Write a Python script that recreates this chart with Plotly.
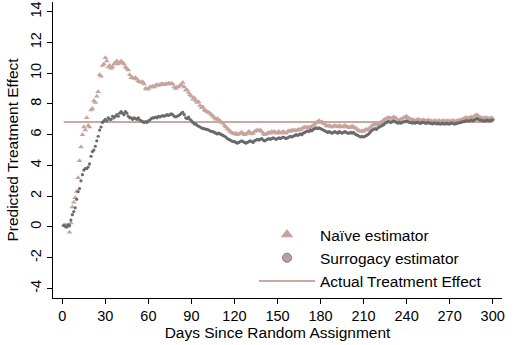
import plotly.graph_objects as go

days = list(range(1, 301))

naive = [
    0.1, 0.15, 0.0, 0.05, -0.35, 0.25, 1.3, 1.6, 1.9, 2.3,
    3.2, 4.3, 5.2, 6.0, 6.5, 6.3, 7.1, 6.6, 6.5, 7.6,
    7.7, 8.2, 8.1, 8.5, 8.8, 9.9, 9.8, 10.5, 10.6, 11.0,
    10.8, 10.4, 10.5, 10.3, 10.4, 10.6, 10.7, 10.8, 10.6, 10.7,
    10.8, 10.7, 10.6, 10.4, 10.3, 10.2, 9.9, 9.7, 9.7, 9.65,
    9.7, 9.6, 9.5, 9.45, 9.4, 9.45, 9.3, 9.0, 8.95, 9.0,
    9.1, 9.1, 9.15, 9.1, 9.2, 9.25, 9.2, 9.25, 9.3, 9.3,
    9.25, 9.3, 9.3, 9.35, 9.3, 9.35, 9.3, 9.1, 9.0, 9.1,
    9.1, 9.2, 9.25, 9.4, 9.1, 8.9, 8.9, 8.75, 8.6, 8.5,
    8.3, 8.4, 8.2, 8.1, 8.15, 7.9, 7.75, 7.8, 7.6, 7.55,
    7.5, 7.45, 7.4, 7.3, 7.2, 7.1, 7.0, 7.05, 6.95, 6.9,
    6.8, 6.75, 6.6, 6.5, 6.4, 6.3, 6.2, 6.15, 6.1, 6.05,
    6.1, 6.0, 6.05, 6.1, 6.15, 6.1, 6.0, 6.05, 6.1, 6.2,
    6.15, 6.05, 6.1, 6.2, 6.25, 6.3, 6.25, 6.3, 6.2, 6.1,
    6.0, 6.05, 6.1, 6.15, 6.1, 6.2, 6.15, 6.2, 6.1, 6.15,
    6.2, 6.1, 6.15, 6.2, 6.15, 6.1, 6.2, 6.25, 6.2, 6.3,
    6.25, 6.3, 6.25, 6.3, 6.35, 6.3, 6.4, 6.45, 6.5, 6.45,
    6.5, 6.45, 6.5, 6.55, 6.6, 6.7, 6.8, 6.85, 6.9, 6.8,
    6.85, 6.75, 6.7, 6.6, 6.55, 6.6, 6.55, 6.5, 6.55, 6.6,
    6.55, 6.5, 6.6, 6.55, 6.5, 6.55, 6.6, 6.55, 6.5, 6.45,
    6.5, 6.55, 6.5, 6.45, 6.4, 6.3, 6.25, 6.2, 6.25, 6.2,
    6.3, 6.35, 6.3, 6.4, 6.5, 6.6, 6.65, 6.7, 6.65, 6.7,
    6.75, 6.8, 6.85, 6.95, 7.0, 7.05, 7.1, 7.1, 7.05, 7.1,
    7.15, 7.1, 7.05, 6.9, 6.95, 7.0, 7.05, 7.1, 7.15, 7.2,
    7.1, 7.05, 7.0, 6.95, 6.95, 6.9, 6.95, 7.0, 6.95, 6.9,
    6.95, 6.95, 6.9, 6.9, 6.95, 6.9, 6.9, 6.85, 6.9, 6.9,
    6.85, 6.9, 6.9, 6.85, 6.9, 6.9, 6.85, 6.9, 6.9, 6.85,
    6.9, 6.9, 6.9, 6.85, 6.9, 6.9, 6.95, 6.95, 7.0, 7.05,
    7.1, 7.1, 7.05, 7.1, 7.15, 7.1, 7.2, 7.25, 7.3, 7.2,
    7.15, 7.1, 7.05, 7.1, 7.05, 7.1, 7.05, 7.05, 7.1, 7.05,
]

surrogacy = [
    0.1, 0.05, 0.0, 0.15, 0.1, 0.45, 0.8, 1.0, 1.25, 1.8,
    2.3, 2.5, 3.0, 3.4, 3.7, 3.8, 3.8, 3.9, 4.1, 4.6,
    4.9, 5.0, 5.25, 5.6, 5.9, 6.3, 6.5, 6.8, 6.9, 7.0,
    6.9, 7.1, 7.0, 7.0, 7.2, 7.1, 7.2, 7.3, 7.2, 7.4,
    7.5, 7.4, 7.3, 7.5, 7.4, 7.2, 7.1, 7.1, 7.0, 7.1,
    7.05, 7.0, 7.1, 6.95, 6.9, 6.85, 6.8, 6.85, 6.8, 6.9,
    6.95, 7.05, 7.1, 7.1, 7.15, 7.1, 7.2, 7.15, 7.2, 7.25,
    7.2, 7.25, 7.3, 7.25, 7.3, 7.35, 7.3, 7.2, 7.15, 7.2,
    7.25, 7.3, 7.4, 7.45, 7.3, 7.1, 7.05, 7.15, 7.0, 6.9,
    6.8, 6.7, 6.7, 6.6, 6.55, 6.5, 6.45, 6.4, 6.4, 6.35,
    6.35, 6.3, 6.25, 6.2, 6.2, 6.15, 6.1, 6.05, 6.1, 6.05,
    6.0, 5.95, 5.9, 5.85, 5.75, 5.7, 5.65, 5.6, 5.55, 5.55,
    5.5, 5.45, 5.5, 5.55, 5.6, 5.55, 5.5, 5.45, 5.5, 5.55,
    5.6, 5.55, 5.5, 5.6, 5.65, 5.7, 5.65, 5.7, 5.75, 5.65,
    5.6, 5.65, 5.7, 5.75, 5.7, 5.75, 5.8, 5.75, 5.7, 5.75,
    5.8, 5.75, 5.8, 5.85, 5.8, 5.75, 5.8, 5.85, 5.9, 5.85,
    5.9, 5.95, 6.0, 5.95, 6.0, 6.05, 6.0, 6.1, 6.15, 6.2,
    6.25, 6.2, 6.3, 6.25, 6.35, 6.4, 6.45, 6.4, 6.45, 6.4,
    6.35, 6.3, 6.25, 6.2, 6.15, 6.2, 6.15, 6.1, 6.15, 6.2,
    6.15, 6.1, 6.2, 6.15, 6.1, 6.15, 6.2, 6.15, 6.1, 6.1,
    6.15, 6.1, 6.15, 6.05, 6.0, 5.95, 5.9, 5.85, 5.9, 5.85,
    5.9, 5.95, 6.0, 6.1, 6.2, 6.3, 6.35, 6.4, 6.35, 6.45,
    6.5, 6.55, 6.6, 6.65, 6.75, 6.8, 6.85, 6.85, 6.8, 6.85,
    6.9, 6.85, 6.8, 6.75, 6.8, 6.75, 6.8, 6.85, 6.85, 6.9,
    6.85, 6.8, 6.8, 6.75, 6.8, 6.75, 6.8, 6.8, 6.75, 6.75,
    6.8, 6.8, 6.75, 6.75, 6.8, 6.75, 6.75, 6.7, 6.75, 6.75,
    6.7, 6.75, 6.7, 6.7, 6.75, 6.7, 6.7, 6.75, 6.7, 6.7,
    6.75, 6.75, 6.7, 6.7, 6.75, 6.75, 6.8, 6.8, 6.85, 6.85,
    6.9, 6.9, 6.9, 6.9, 6.95, 6.9, 6.95, 7.0, 7.05, 7.0,
    6.95, 6.95, 6.9, 6.9, 6.9, 6.95, 6.9, 6.9, 6.95, 6.95,
]

actual_days = [1, 300]
actual_effect = [6.83, 6.83]

x_ticks = [0, 30, 60, 90, 120, 150, 180, 210, 240, 270, 300]
y_ticks = [-4, -2, 0, 2, 4, 6, 8, 10, 12, 14]
y_ticktext = [str(v) for v in y_ticks]

series_names = ["Naïve estimator", "Surrogacy estimator", "Actual Treatment Effect"]

PINK = "#c6a49c"
LINEPINK = "#c9aaa2"
GRAY = "#6a6a6a"
FONT = "Liberation Sans, Arial, Helvetica, sans-serif"

fig = go.Figure()

fig.add_trace(go.Scatter(x=actual_days, y=actual_effect, mode="lines",
                         line=dict(color=LINEPINK, width=2), showlegend=False,
                         hoverinfo="skip"))
fig.add_trace(go.Scatter(x=days, y=naive, mode="markers",
                         marker=dict(symbol="triangle-up", size=5, color=PINK,
                                     line=dict(width=0)),
                         showlegend=False))
fig.add_trace(go.Scatter(x=days, y=surrogacy, mode="markers",
                         marker=dict(symbol="circle", size=3.2, color=GRAY,
                                     line=dict(width=0)),
                         showlegend=False))

# legend entries
fig.add_trace(go.Scatter(x=[None], y=[None], mode="markers", name=series_names[0],
                         marker=dict(symbol="triangle-up", size=11, color=PINK,
                                     line=dict(width=0))))
fig.add_trace(go.Scatter(x=[None], y=[None], mode="markers", name=series_names[1],
                         marker=dict(symbol="circle", size=9, color="#b9a29d",
                                     line=dict(width=1, color="#7d7a79"))))
fig.add_trace(go.Scatter(x=[None], y=[None], mode="lines", name=series_names[2],
                         line=dict(color=LINEPINK, width=2)))

fig.update_layout(
    width=514, height=345,
    margin=dict(l=53, r=12, t=2, b=47),
    paper_bgcolor="white", plot_bgcolor="white",
    font=dict(family=FONT, size=15.5, color="#000000"),
    showlegend=True,
    legend=dict(x=0.4477, y=0.0, xanchor="left", yanchor="bottom",
                bgcolor="rgba(0,0,0,0)", itemwidth=56,
                font=dict(family=FONT, size=15.5, color="#000000"),
                tracegroupgap=0),
    xaxis=dict(range=[-6.5, 306.5], tickvals=x_ticks, showgrid=False,
               zeroline=False, showline=True, linecolor="#000000", linewidth=1,
               ticks="outside", ticklen=5, tickcolor="#000000",
               tickfont=dict(size=14.5),
               title=dict(text="Days Since Random Assignment",
                          font=dict(size=15.5), standoff=3)),
    yaxis=dict(range=[-4.62, 14.63], tickvals=y_ticks, ticktext=y_ticktext,
               tickangle=-90, showgrid=False, zeroline=False, showline=True,
               linecolor="#000000", linewidth=1, ticks="outside", ticklen=5,
               tickcolor="#000000", tickfont=dict(size=14.5),
               title=dict(text="Predicted Treatment Effect",
                          font=dict(size=15.5), standoff=5)),
)

fig.write_html("out.html")
